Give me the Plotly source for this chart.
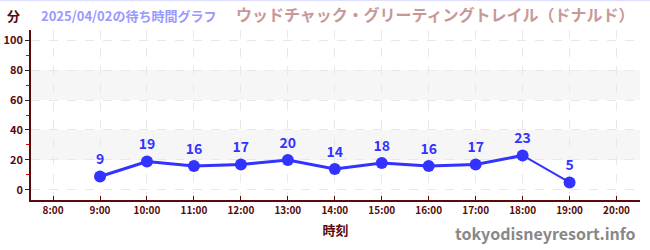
import plotly.graph_objects as go

times = ["9:00", "10:00", "11:00", "12:00", "13:00", "14:00", "15:00", "16:00", "17:00", "18:00", "19:00"]
waits = [9, 19, 16, 17, 20, 14, 18, 16, 17, 23, 5]
tick_hours = list(range(8, 21))
tick_labels = [f"{h}:00" for h in tick_hours]
y_ticks = [0, 20, 40, 60, 80, 100]

date_title = "2025/04/02の待ち時間グラフ"
attraction = "ウッドチャック・グリーティングトレイル（ドナルド）"
unit = "分"
x_title = "時刻"
site = "tokyodisneyresort.info"

hours = [int(t.split(":")[0]) + int(t.split(":")[1]) / 60 for t in times]

FONT = "Noto Sans CJK JP"
BLUE = "#3333ff"
DARK = "#5a0a0a"

fig = go.Figure()
fig.add_trace(go.Scatter(
    x=hours[:-1], y=waits[:-1], mode="lines",
    line=dict(color=BLUE, width=3), hoverinfo="skip", showlegend=False))
fig.add_trace(go.Scatter(
    x=hours[-2:], y=waits[-2:], mode="lines",
    line=dict(color=BLUE, width=2), hoverinfo="skip", showlegend=False))
fig.add_trace(go.Scatter(
    x=hours, y=waits, mode="markers+text",
    marker=dict(color=BLUE, size=12),
    text=[str(v) for v in waits], textposition="top center",
    textfont=dict(family=FONT, size=14, color=BLUE, weight="bold"),
    showlegend=False))

for y0, y1 in [(20, 40), (60, 80)]:
    fig.add_shape(type="rect", xref="paper", x0=0, x1=1, yref="y", y0=y0, y1=y1,
                  fillcolor="#f6f6f6", line_width=0, layer="below")

fig.add_shape(type="line", xref="paper", yref="paper", x0=-0.06, x1=1.03,
              y0=1.173, y1=1.173, line=dict(color="#dcdcff", width=1))

fig.update_layout(
    width=650, height=250,
    margin=dict(l=31, r=10, t=30, b=50),
    plot_bgcolor="white", paper_bgcolor="white",
    font=dict(family=FONT),
    xaxis=dict(
        range=[7.53, 20.5], tickvals=tick_hours, ticktext=tick_labels,
        showgrid=True, gridcolor="#e8e8e8", griddash="dash", gridwidth=1,
        showline=True, linecolor=DARK, linewidth=1.5,
        ticks="inside", ticklen=4, tickcolor=DARK,
        tickfont=dict(family=FONT, size=10, color=DARK, weight="bold"),
        zeroline=False, fixedrange=True, automargin=False,
        title=dict(text=x_title, font=dict(family=FONT, size=13, color=DARK, weight="bold"), standoff=10),
    ),
    yaxis=dict(
        range=[-6.7, 106.7], tickvals=y_ticks,
        showgrid=True, gridcolor="#e8e8e8", griddash="dash", gridwidth=1,
        showline=True, linecolor=DARK, linewidth=1.5,
        ticks="outside", ticklen=4, tickcolor="#222222",
        tickfont=dict(family=FONT, size=11, color=DARK, weight="bold"),
        minor=dict(tickvals=[10, 30, 50, 70, 90], ticks="outside", ticklen=3, tickcolor="#dd0000", showgrid=False),
        zeroline=False, fixedrange=True, automargin=False,
    ),
    annotations=[
        dict(text=unit, xref="paper", yref="paper", x=-0.015, y=1.085, xanchor="right", yanchor="middle",
             showarrow=False, font=dict(family=FONT, size=13, color=DARK, weight="bold")),
        dict(text=date_title, xref="paper", yref="paper", x=0.013, y=1.085, xanchor="left", yanchor="middle",
             showarrow=False, font=dict(family=FONT, size=13, color="#9999ff", weight="bold")),
        dict(text=attraction, xref="paper", yref="paper", x=0.995, y=1.095, xanchor="right", yanchor="middle",
             showarrow=False, font=dict(family=FONT, size=16, color="#c89898", weight="bold")),
        dict(text=site, xref="paper", yref="paper", x=0.996, y=-0.195, xanchor="right", yanchor="middle",
             showarrow=False, font=dict(family=FONT, size=16, color="#888888", weight="bold")),
    ],
)

fig.write_html("out.html")
